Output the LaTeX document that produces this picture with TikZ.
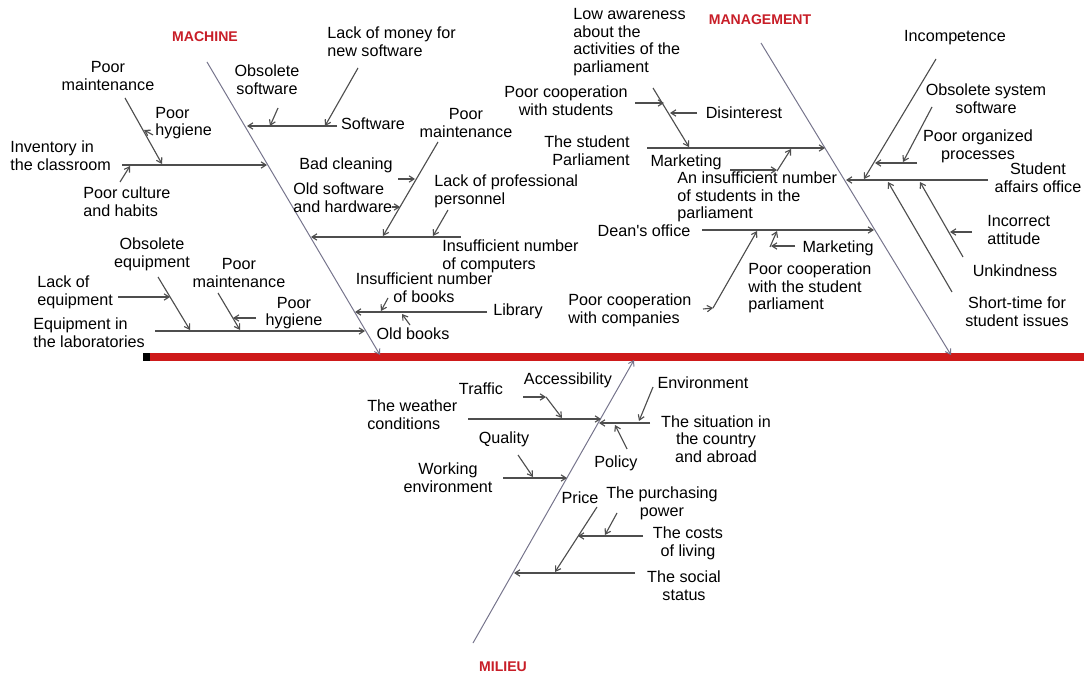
\documentclass[tikz,border=0pt]{standalone}
\usepackage{fontspec}
\setmainfont{Liberation Sans}
\usepackage{tikz}
\usetikzlibrary{arrows.meta}
\definecolor{fishred}{RGB}{206,26,26}
\definecolor{catred}{RGB}{200,30,40}
\definecolor{bonegray}{RGB}{118,116,140}
\definecolor{causegray}{RGB}{78,78,78}

\begin{document}
\begin{tikzpicture}[x=0.025cm,y=-0.025cm,
    >={Straight Barb[length=3.5pt,width=4.5pt]},
    every node/.style={inner sep=0pt},
    txt/.style={font=\fontsize{11.5}{12.6}\selectfont,align=center},
    cat/.style={font=\bfseries\fontsize{10}{12}\selectfont,text=catred},
    bone/.style={draw=bonegray,line width=0.7pt,->},
    cause/.style={draw=causegray,line width=0.8pt,->}]
    \useasboundingbox[fill=white] (0,0) rectangle (1084,675);

    % spine
    \coordinate (tail) at (143,357);
    \coordinate (head) at (1084,357);
    \draw[fishred,line width=5.8pt] (tail) -- (head);
    \fill[black] (143,353) rectangle (150,361);

    % main bones
    \coordinate (mach-top) at (207,62);
    \coordinate (mach-end) at (380,355);
    \coordinate (mgmt-top) at (761,43);
    \coordinate (mgmt-end) at (951,355);
    \coordinate (mil-end) at (473,643);
    \coordinate (mil-top) at (634,360);
    \draw[bone] (mach-top) -- (mach-end);
    \draw[bone] (mgmt-top) -- (mgmt-end);
    \draw[bone] (mil-end) -- (mil-top);

    \node[cat] (machine) at (205,37) {MACHINE};
    \node[cat] (management) at (760,20) {MANAGEMENT};
    \node[cat] (milieu) at (503,667) {MILIEU};

    % machine
    \node[txt,align=left,anchor=west] (lackmoney) at (327,42) {Lack of money for\\new software};
    \node[txt] (obssoft) at (267,80) {Obsolete\\software};
    \node[txt] (software) at (373,124) {Software};
    \node[txt] (poormaint-a) at (108,76) {Poor\\maintenance};
    \node[txt,align=left,anchor=west] (poorhyg-a) at (155,123) {Poor\\hygiene};
    \node[txt,align=left,anchor=west] (inventory) at (10,156) {Inventory in\\the classroom};
    \node[txt,align=left,anchor=west] (culture) at (83,202) {Poor culture\\and habits};
    \node[txt] (badclean) at (346,165) {Bad cleaning};
    \node[txt,align=left,anchor=west] (oldsoft) at (293,198) {Old software\\and hardware};
    \node[txt] (poormaint-b) at (466,123) {Poor\\maintenance};
    \node[txt,align=left,anchor=west] (lackprof) at (434,191) {Lack of professional\\personnel};
    \node[txt,align=left,anchor=west] (computers) at (442,256) {Insufficient number\\of computers};
    \node[txt] (books) at (424,288) {Insufficient number\\of books};
    \node[txt,anchor=west] (library) at (493,311) {Library};
    \node[txt] (oldbooks) at (413,334) {Old books};
    \node[txt] (obsequip) at (152,254) {Obsolete\\equipment};
    \node[txt] (poormaint-c) at (239,273) {Poor\\maintenance};
    \node[txt,align=left,anchor=west] (lackequip) at (37,292) {Lack of\\equipment};
    \node[txt] (poorhyg-b) at (294,313) {Poor\\hygiene};
    \node[txt,align=left,anchor=west] (labs) at (33,333) {Equipment in\\the laboratories};

    \coordinate (sw-r) at (337,126); \coordinate (sw-b) at (247,126);
    \coordinate (lm-a) at (358,68); \coordinate (lm-b) at (325,126);
    \coordinate (os-a) at (278,108); \coordinate (os-b) at (270,126);
    \coordinate (inv-l) at (122,165); \coordinate (inv-b) at (267,165);
    \coordinate (pm1-a) at (125,98); \coordinate (pm1-b) at (162,164);
    \coordinate (ph1-a) at (153,135); \coordinate (ph1-b) at (144,130);
    \coordinate (pc-a) at (120,182); \coordinate (pc-b) at (130,166);
    \coordinate (cmp-r) at (461,237); \coordinate (cmp-b) at (311,237);
    \coordinate (pm2-a) at (438,142); \coordinate (pm2-b) at (383,236);
    \coordinate (bc-a) at (398,179); \coordinate (bc-b) at (415,179);
    \coordinate (ow-a) at (392,207); \coordinate (ow-b) at (400,207);
    \coordinate (lp-a) at (448,210); \coordinate (lp-b) at (433,236);
    \coordinate (lib-r) at (487,312); \coordinate (lib-b) at (355,312);
    \coordinate (ib-a) at (388,298); \coordinate (ib-b) at (381,311);
    \coordinate (ob-a) at (410,325); \coordinate (ob-b) at (402,314);
    \coordinate (lab-l) at (155,331); \coordinate (lab-b) at (365,331);
    \coordinate (oe-a) at (158,277); \coordinate (oe-b) at (190,330);
    \coordinate (le-a) at (118,297); \coordinate (le-b) at (170,297);
    \coordinate (pm3-a) at (218,293); \coordinate (pm3-b) at (240,330);
    \coordinate (ph2-a) at (256,318); \coordinate (ph2-b) at (233,318);

    % management
    \node[txt,align=left,anchor=west] (lowaware) at (573,42) {Low awareness\\about the\\activities of the\\parliament};
    \node[txt] (coopstud) at (566,101) {Poor cooperation\\with students};
    \node[txt] (disinterest) at (744,113) {Disinterest};
    \node[txt,align=right,anchor=east] (studparl) at (630,151) {The student\\Parliament};
    \node[txt] (mkt-a) at (686,162) {Marketing};
    \node[txt,align=left,anchor=west] (insuff) at (677,197) {An insufficient number\\of students in the\\parliament};
    \node[txt] (deans) at (644,231) {Dean\textquotesingle s office};
    \node[txt] (mkt-b) at (838,248) {Marketing};
    \node[txt,align=left,anchor=west] (coopparl) at (748,288) {Poor cooperation\\with the student\\parliament};
    \node[txt,align=left,anchor=west] (coopcomp) at (568,310) {Poor cooperation\\with companies};
    \node[txt] (incomp) at (955,38) {Incompetence};
    \node[txt] (obssys) at (986,99) {Obsolete system\\software};
    \node[txt] (poororg) at (978,146) {Poor organized\\processes};
    \node[txt] (affairs) at (1038,178) {Student\\affairs office};
    \node[txt,align=left,anchor=west] (incorrect) at (987,230) {Incorrect\\attitude};
    \node[txt] (unkind) at (1015,271) {Unkindness};
    \node[txt] (shorttime) at (1017,312) {Short-time for\\student issues};

    \coordinate (la-a) at (653,88); \coordinate (la-b) at (689,147);
    \coordinate (cs-a) at (635,103); \coordinate (cs-b) at (664,103);
    \coordinate (di-a) at (697,113); \coordinate (di-b) at (670,113);
    \coordinate (sp-l) at (647,148); \coordinate (sp-b) at (825,148);
    \coordinate (in-a) at (777,171); \coordinate (in-b) at (791,149);
    \coordinate (mk1-a) at (730,170); \coordinate (mk1-b) at (777,170);
    \coordinate (do-l) at (702,230); \coordinate (do-b) at (874,230);
    \coordinate (mk2-a) at (795,246); \coordinate (mk2-b) at (771,246);
    \coordinate (cp-a) at (770,247); \coordinate (cp-b) at (777,231);
    \coordinate (cc-a) at (703,309); \coordinate (cc-m) at (713,308); \coordinate (cc-b) at (757,231);
    \coordinate (ic-a) at (936,59); \coordinate (ic-b) at (864,179);
    \coordinate (ss-a) at (932,107); \coordinate (ss-b) at (903,162);
    \coordinate (po-a) at (917,163); \coordinate (po-b) at (875,163);
    \coordinate (sa-r) at (988,180); \coordinate (sa-b) at (846,180);
    \coordinate (st-a) at (952,292); \coordinate (st-b) at (888,182);
    \coordinate (uk-a) at (963,257); \coordinate (uk-b) at (920,182);
    \coordinate (ia-a) at (972,232); \coordinate (ia-b) at (950,232);

    % milieu
    \node[txt] (access) at (568,380) {Accessibility};
    \node[txt] (traffic) at (481,389) {Traffic};
    \node[txt,align=left,anchor=west] (weather) at (367,415) {The weather\\conditions};
    \node[txt] (environ) at (703,383) {Environment};
    \node[txt] (situation) at (716,439) {The situation in\\the country\\and abroad};
    \node[txt] (policy) at (616,463) {Policy};
    \node[txt] (quality) at (504,439) {Quality};
    \node[txt] (working) at (448,478) {Working\\environment};
    \node[txt] (price) at (580,498) {Price};
    \node[txt] (purchase) at (662,503) {The purchasing\\power};
    \node[txt] (costs) at (688,543) {The costs\\of living};
    \node[txt] (social) at (684,586) {The social\\status};

    \coordinate (we-l) at (468,419); \coordinate (we-b) at (601,419);
    \coordinate (tr-a) at (523,397); \coordinate (tr-b) at (546,397);
    \coordinate (ac-b) at (562,418);
    \coordinate (en-a) at (653,387); \coordinate (en-b) at (639,421);
    \coordinate (si-r) at (650,423); \coordinate (si-b) at (599,423);
    \coordinate (pl-a) at (627,449); \coordinate (pl-b) at (615,425);
    \coordinate (wk-l) at (503,478); \coordinate (wk-b) at (567,478);
    \coordinate (qu-a) at (518,455); \coordinate (qu-b) at (533,477);
    \coordinate (so-r) at (635,573); \coordinate (so-b) at (514,573);
    \coordinate (pr-a) at (597,507); \coordinate (pr-b) at (555,572);
    \coordinate (co-r) at (643,536); \coordinate (co-b) at (578,536);
    \coordinate (pp-a) at (617,513); \coordinate (pp-b) at (605,535);

    % all cause arrows
    \foreach \a/\b in {sw-r/sw-b, lm-a/lm-b, os-a/os-b, inv-l/inv-b, pm1-a/pm1-b,
        ph1-a/ph1-b, pc-a/pc-b, cmp-r/cmp-b, pm2-a/pm2-b, bc-a/bc-b, ow-a/ow-b,
        lp-a/lp-b, lib-r/lib-b, ib-a/ib-b, ob-a/ob-b, lab-l/lab-b, oe-a/oe-b,
        le-a/le-b, pm3-a/pm3-b, ph2-a/ph2-b,
        la-a/la-b, cs-a/cs-b, di-a/di-b, sp-l/sp-b, in-a/in-b, mk1-a/mk1-b,
        do-l/do-b, mk2-a/mk2-b, cp-a/cp-b, cc-a/cc-m, cc-m/cc-b, ic-a/ic-b,
        ss-a/ss-b, po-a/po-b, sa-r/sa-b, st-a/st-b, uk-a/uk-b, ia-a/ia-b,
        we-l/we-b, tr-a/tr-b, tr-b/ac-b, en-a/en-b, si-r/si-b, pl-a/pl-b,
        wk-l/wk-b, qu-a/qu-b, so-r/so-b, pr-a/pr-b, co-r/co-b, pp-a/pp-b}
        \draw[cause] (\a) -- (\b);
\end{tikzpicture}
\end{document}
